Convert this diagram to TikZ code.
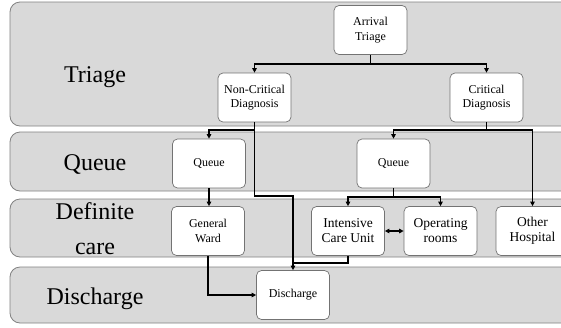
\documentclass[tikz,border=0pt]{standalone}
\usepackage{fontspec}
\setmainfont{Liberation Serif}
\usetikzlibrary{arrows.meta}

\definecolor{lanefill}{RGB}{217,217,217}
\definecolor{laneedge}{RGB}{130,130,130}
\definecolor{boxedge}{RGB}{115,115,115}

\tikzset{
  lane/.style={draw=laneedge, fill=lanefill, line width=0.8pt, rounded corners=10pt},
  lanelabel/.style={anchor=base, inner sep=0pt, font=\fontsize{24}{28}\selectfont},
  stagebox/.style={draw=boxedge, fill=white, line width=0.7pt, rounded corners=5pt,
    minimum width=73pt, minimum height=49pt, inner sep=1pt, align=center,
    font=\fontsize{12}{14.5}\selectfont},
  bigtext/.style={font=\fontsize{13.5}{15}\selectfont},
  link/.style={line width=1.6pt, draw=black},
  flow/.style={link, -{Triangle[length=4.5pt,width=4.5pt]}},
  twoway/.style={link, {Triangle[length=4.5pt,width=4.5pt]}-{Triangle[length=4.5pt,width=4.5pt]}}
}

\begin{document}
\begin{tikzpicture}[x=1pt, y=-1pt]
  \clip (0,0) rectangle (561,327);
  \fill[white] (0,0) rectangle (561,327);

  % swim lanes
  \draw[lane] (10,2)   rectangle (590,126);
  \draw[lane] (10,132) rectangle (590,191);
  \draw[lane] (10,199) rectangle (590,257);
  \draw[lane] (10,267) rectangle (590,323);

  % lane titles
  \node[lanelabel] (labTriage)    at (95,82)  {Triage};
  \node[lanelabel] (labQueue)     at (95,170) {Queue};
  \node[lanelabel] (labDefinite)  at (95,219) {Definite};
  \node[lanelabel] (labCare)      at (95,254) {care};
  \node[lanelabel] (labDischarge) at (95,304) {Discharge};

  % stages
  \node[stagebox] (arr)     at (370.5,30)  {Arrival\\Triage};
  \node[stagebox] (noncrit) at (254.5,97.5) {Non-Critical\\Diagnosis};
  \node[stagebox] (crit)    at (486.5,97.5) {Critical\\Diagnosis};
  \node[stagebox] (q1)      at (209,163.5) {Queue};
  \node[stagebox] (q2)      at (393.5,163.5) {Queue};
  \node[stagebox] (gw)      at (208,231)   {General\\Ward};
  \node[stagebox, bigtext] (icu) at (348,231)   {Intensive\\Care Unit};
  \node[stagebox, bigtext] (opr) at (440.5,231) {Operating\\rooms};
  \node[stagebox, bigtext] (oh)  at (532.5,231) {Other\\Hospital};
  \node[stagebox] (dis)     at (293,295)   {Discharge};

  % bus levels
  \coordinate (busTop) at (0,64);
  \coordinate (busDiag) at (0,130);
  \coordinate (busQ) at (0,197);
  \coordinate (busNC) at (0,196);
  \coordinate (busICU) at (0,263);

  % connectors
  \draw[flow] (arr.south) -- (arr.south |- busTop) -| (noncrit.north);
  \draw[flow] (arr.south |- busTop) -| (crit.north);

  \draw[flow] (noncrit.south) -- (noncrit.south |- busDiag) -| (q1.north);
  \draw[flow] (noncrit.south |- busDiag) -- (noncrit.south |- busNC) -| (dis.north);

  \draw[flow] (crit.south) -- (crit.south |- busDiag) -| (q2.north);
  \draw[flow] (crit.south |- busDiag) -| (oh.north);

  \draw[flow] (q1.south) -- (q1.south |- gw.north);

  \draw[flow] (q2.south) -- (q2.south |- busQ) -| (icu.north);
  \draw[flow] (q2.south |- busQ) -| (opr.north);

  \draw[twoway] (icu.east) -- (opr.west);

  \draw[link] (icu.south) -- (icu.south |- busICU) -- (dis.north |- busICU);
  \draw[flow] (gw.south) |- (dis.west);
\end{tikzpicture}
\end{document}
